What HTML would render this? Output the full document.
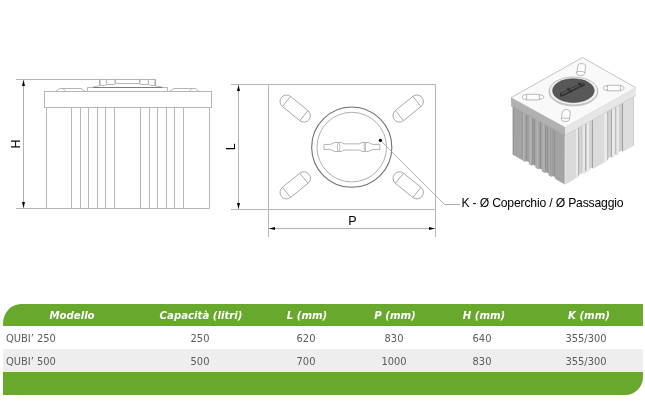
<!DOCTYPE html>
<html lang="it">
<head>
<meta charset="utf-8">
<title>QUBI’ - dimensioni</title>
<style>
html,body{margin:0;padding:0;background:#fff;}
body{width:645px;height:407px;position:relative;overflow:hidden;font-family:"Liberation Sans",sans-serif;}
svg{position:absolute;left:0;top:0;will-change:transform;}
svg text{font-family:"Liberation Sans",sans-serif;}
.tbl{position:absolute;left:3px;top:304px;width:640px;font-family:"DejaVu Sans Condensed","DejaVu Sans","Liberation Sans",sans-serif;font-size:11px;color:#5a5a5a;}
.tbl div{position:relative;width:640px;}
.hd{height:22px;background:#67a82d;border-top-left-radius:18px 20px;color:#fff;font-weight:bold;font-style:italic;line-height:22px;font-size:11.3px;}
.r{height:23px;line-height:23px;}
.r1{background:#fff;}
.r2{background:#eeeeee;}
.ft{height:22.6px;background:#67a82d;border-bottom-right-radius:18px 18px;}
.c,.n{will-change:transform;}
.c{position:absolute;top:1px;width:120px;text-align:center;white-space:nowrap;}
.n{position:absolute;left:3px;top:1px;white-space:nowrap;}
</style>
</head>
<body>
<svg width="645" height="407" viewBox="0 0 645 407">
<g id="front" fill="none">
<line x1="16" y1="79.5" x2="156" y2="79.5" stroke="#b6b6b6" stroke-width="1"/>
<line x1="16" y1="208.5" x2="209.5" y2="208.5" stroke="#b6b6b6" stroke-width="1"/>
<line x1="23.5" y1="80" x2="23.5" y2="208" stroke="#b2b2b2" stroke-width="1"/>
<path d="M23.5,80 L22,86 L25,86 Z" fill="#000"/>
<path d="M23.5,208 L22,202 L25,202 Z" fill="#000"/>
<rect x="44.5" y="91.5" width="167" height="16" stroke="#b6b6b6" stroke-width="1"/>
<line x1="46.5" y1="107.5" x2="46.5" y2="208.5" stroke="#b6b6b6" stroke-width="1"/>
<line x1="209.5" y1="107.5" x2="209.5" y2="208.5" stroke="#b6b6b6" stroke-width="1"/>
<line x1="71.5" y1="108" x2="71.5" y2="208.5" stroke="#b6b6b6" stroke-width="1"/>
<line x1="80.5" y1="108" x2="80.5" y2="208.5" stroke="#b6b6b6" stroke-width="1"/>
<line x1="88.5" y1="108" x2="88.5" y2="208.5" stroke="#b6b6b6" stroke-width="1"/>
<line x1="97.5" y1="108" x2="97.5" y2="208.5" stroke="#b6b6b6" stroke-width="1"/>
<line x1="105.5" y1="108" x2="105.5" y2="208.5" stroke="#b6b6b6" stroke-width="1"/>
<line x1="114.5" y1="108" x2="114.5" y2="208.5" stroke="#b6b6b6" stroke-width="1"/>
<line x1="140.5" y1="108" x2="140.5" y2="208.5" stroke="#b6b6b6" stroke-width="1"/>
<line x1="149.5" y1="108" x2="149.5" y2="208.5" stroke="#b6b6b6" stroke-width="1"/>
<line x1="157.5" y1="108" x2="157.5" y2="208.5" stroke="#b6b6b6" stroke-width="1"/>
<line x1="166.5" y1="108" x2="166.5" y2="208.5" stroke="#b6b6b6" stroke-width="1"/>
<line x1="174.5" y1="108" x2="174.5" y2="208.5" stroke="#b6b6b6" stroke-width="1"/>
<line x1="183.5" y1="108" x2="183.5" y2="208.5" stroke="#b6b6b6" stroke-width="1"/>
<path d="M55.90,91.50 L59.40,88.50 L81.10,88.50 L85.30,91.50" fill="none" stroke="#b4b4b4" stroke-width="1" stroke-linejoin="round"/>
<path d="M62.90,88.50 L66.00,91.50" fill="none" stroke="#b4b4b4" stroke-width="1" stroke-linejoin="round"/>
<path d="M169.70,91.50 L173.90,88.50 L195.60,88.50 L199.10,91.50" fill="none" stroke="#b4b4b4" stroke-width="1" stroke-linejoin="round"/>
<path d="M192.10,88.50 L189.00,91.50" fill="none" stroke="#b4b4b4" stroke-width="1" stroke-linejoin="round"/>
<path d="M87.50,91.50 L87.50,87.50 L167.50,87.50 L167.50,91.50" fill="none" stroke="#b6b6b6" stroke-width="1" stroke-linejoin="round"/>
<line x1="92.8" y1="87.5" x2="162.2" y2="87.5" stroke="#7a7a7a" stroke-width="1"/>
<path d="M92.80,87.00 L99.50,85.80" fill="none" stroke="#a6a6a6" stroke-width="0.7" stroke-linejoin="round"/>
<path d="M162.20,87.00 L155.50,85.80" fill="none" stroke="#a6a6a6" stroke-width="0.7" stroke-linejoin="round"/>
<path d="M99.50,79.50 L99.50,85.50 L104.50,85.50 L106.50,84.50 L114.00,84.50 L115.50,83.50 L139.50,83.50 L141.00,84.50 L148.50,84.50 L150.50,85.50 L155.50,85.50 L155.50,79.50" fill="none" stroke="#b6b6b6" stroke-width="1" stroke-linejoin="round"/>
<line x1="99.8" y1="79.5" x2="99.8" y2="85.5" stroke="#a8a8a8" stroke-width="1.4"/>
<line x1="155.2" y1="79.5" x2="155.2" y2="85.5" stroke="#a8a8a8" stroke-width="1.4"/>
<line x1="106.5" y1="79.5" x2="106.5" y2="84.5" stroke="#b6b6b6" stroke-width="1"/>
<line x1="148.5" y1="79.5" x2="148.5" y2="84.5" stroke="#b6b6b6" stroke-width="1"/>
<line x1="115.2" y1="79.5" x2="115.2" y2="83.5" stroke="#a8a8a8" stroke-width="1.3"/>
<line x1="139.8" y1="79.5" x2="139.8" y2="83.5" stroke="#a8a8a8" stroke-width="1.3"/>
</g>
<text transform="translate(20,144) rotate(-90)" text-anchor="middle" font-size="12.5" fill="#000">H</text>
<g id="top" fill="none">
<line x1="231" y1="84.5" x2="436" y2="84.5" stroke="#b6b6b6" stroke-width="1"/>
<line x1="231" y1="209.5" x2="436" y2="209.5" stroke="#b6b6b6" stroke-width="1"/>
<line x1="268.5" y1="84.5" x2="268.5" y2="237" stroke="#b6b6b6" stroke-width="1"/>
<line x1="435.5" y1="84.5" x2="435.5" y2="237" stroke="#b6b6b6" stroke-width="1"/>
<line x1="238.5" y1="85" x2="238.5" y2="209" stroke="#b2b2b2" stroke-width="1"/>
<path d="M238.5,85 L237,91 L240,91 Z" fill="#000"/>
<path d="M238.5,209 L237,203 L240,203 Z" fill="#000"/>
<line x1="269" y1="228.5" x2="435" y2="228.5" stroke="#b2b2b2" stroke-width="1"/>
<path d="M269,228.5 L275,227 L275,230 Z" fill="#000"/>
<path d="M435,228.5 L429,227 L429,230 Z" fill="#000"/>
<circle cx="351.75" cy="147.15" r="40.1" stroke="#6e6e6e" stroke-width="1.05"/>
<circle cx="351.75" cy="147.1" r="34.8" stroke="#a6a6a6" stroke-width="0.9"/>
<g transform="translate(295.2,108.54999999999998) rotate(39)" stroke="#a6a6a6" stroke-width="0.9"><path d="M-11.2,-6.5 L11.2,-6.5 A6.5,6.5 0 0 1 11.2,6.5 L-11.2,6.5 A6.5,6.5 0 0 1 -11.2,-6.5 Z"/><path d="M-11.2,-6.5 L-11.2,6.5 M11.2,-6.5 L11.2,6.5"/></g>
<g transform="translate(408.2,108.54999999999998) rotate(-39)" stroke="#a6a6a6" stroke-width="0.9"><path d="M-11.2,-6.5 L11.2,-6.5 A6.5,6.5 0 0 1 11.2,6.5 L-11.2,6.5 A6.5,6.5 0 0 1 -11.2,-6.5 Z"/><path d="M-11.2,-6.5 L-11.2,6.5 M11.2,-6.5 L11.2,6.5"/></g>
<g transform="translate(295.2,185.35) rotate(-39)" stroke="#a6a6a6" stroke-width="0.9"><path d="M-11.2,-6.5 L11.2,-6.5 A6.5,6.5 0 0 1 11.2,6.5 L-11.2,6.5 A6.5,6.5 0 0 1 -11.2,-6.5 Z"/><path d="M-11.2,-6.5 L-11.2,6.5 M11.2,-6.5 L11.2,6.5"/></g>
<g transform="translate(408.2,185.35) rotate(39)" stroke="#a6a6a6" stroke-width="0.9"><path d="M-11.2,-6.5 L11.2,-6.5 A6.5,6.5 0 0 1 11.2,6.5 L-11.2,6.5 A6.5,6.5 0 0 1 -11.2,-6.5 Z"/><path d="M-11.2,-6.5 L-11.2,6.5 M11.2,-6.5 L11.2,6.5"/></g>
<path d="M324.00,144.45 L330.60,144.45 L334.60,142.45 L341.30,142.45 L344.00,143.85 L359.80,143.85 L362.00,142.45 L368.50,142.45 L372.80,144.45 L379.80,144.45 L379.80,149.45 L372.80,149.45 L368.50,151.45 L362.00,151.45 L359.80,150.05 L344.00,150.05 L341.30,151.45 L334.60,151.45 L330.60,149.45 L324.00,149.45 Z" fill="none" stroke="#aaaaaa" stroke-width="0.9" stroke-linejoin="round"/>
<path d="M338,142.45 Q336.6,146.95 338,151.45 M339.2,142.45 Q340.6,146.95 339.2,151.45 M364.3,142.45 L364.3,151.45 M365.5,142.45 L365.5,151.45" stroke="#b0b0b0" stroke-width="0.8"/>
<path d="M380.40,140.30 L444.60,204.50 L460.00,204.50" fill="none" stroke="#a6a6a6" stroke-width="0.9" stroke-linejoin="round"/>
<circle cx="380.4" cy="140.3" r="1.6" fill="#000"/>
</g>
<text transform="translate(235.2,146.8) rotate(-90)" text-anchor="middle" font-size="12.5" fill="#000">L</text>
<text x="352.3" y="225.2" text-anchor="middle" font-size="12.5" fill="#000">P</text>
<text x="461.4" y="207.1" font-size="12.2" textLength="162.2" lengthAdjust="spacing" fill="#000">K - Ø Coperchio / Ø Passaggio</text>
<g id="iso">
<path d="M512.90,106.50 L564.90,135.40 L564.90,184.40 L512.90,154.80 Z" fill="#a3a3a3" stroke="none" stroke-width="1" stroke-linejoin="round"/>
<path d="M564.90,135.40 L633.60,96.50 L633.60,145.60 L564.90,184.40 Z" fill="#d6d6d6" stroke="none" stroke-width="1" stroke-linejoin="round"/>
<path d="M522.30,111.85 L525.62,113.74 L525.62,162.04 L522.30,160.15 Z" fill="#aaaaaa" stroke="none" stroke-width="1" stroke-linejoin="round"/>
<path d="M525.57,113.71 L528.89,115.60 L528.89,162.10 L525.57,160.21 Z" fill="#9e9e9e" stroke="none" stroke-width="1" stroke-linejoin="round"/>
<path d="M528.84,115.57 L532.16,117.46 L532.16,165.76 L528.84,163.87 Z" fill="#aaaaaa" stroke="none" stroke-width="1" stroke-linejoin="round"/>
<path d="M532.11,117.43 L535.43,119.32 L535.43,165.82 L532.11,163.93 Z" fill="#9e9e9e" stroke="none" stroke-width="1" stroke-linejoin="round"/>
<path d="M535.38,119.30 L538.70,121.19 L538.70,169.49 L535.38,167.60 Z" fill="#aaaaaa" stroke="none" stroke-width="1" stroke-linejoin="round"/>
<path d="M538.65,121.16 L541.97,123.05 L541.97,169.55 L538.65,167.66 Z" fill="#9e9e9e" stroke="none" stroke-width="1" stroke-linejoin="round"/>
<path d="M541.92,123.02 L545.24,124.91 L545.24,173.21 L541.92,171.32 Z" fill="#aaaaaa" stroke="none" stroke-width="1" stroke-linejoin="round"/>
<path d="M545.19,124.88 L548.51,126.77 L548.51,173.27 L545.19,171.38 Z" fill="#9e9e9e" stroke="none" stroke-width="1" stroke-linejoin="round"/>
<path d="M548.46,126.74 L551.78,128.63 L551.78,176.93 L548.46,175.04 Z" fill="#aaaaaa" stroke="none" stroke-width="1" stroke-linejoin="round"/>
<path d="M551.73,128.60 L555.05,130.49 L555.05,176.99 L551.73,175.10 Z" fill="#9e9e9e" stroke="none" stroke-width="1" stroke-linejoin="round"/>
<path d="M522.00,111.68 L522.60,112.02 L522.60,158.52 L522.00,158.18 Z" fill="#8b8b8b" stroke="none" stroke-width="1" stroke-linejoin="round"/>
<path d="M526.10,114.01 L526.70,114.36 L526.70,160.86 L526.10,160.51 Z" fill="#8b8b8b" stroke="none" stroke-width="1" stroke-linejoin="round"/>
<path d="M532.60,117.71 L533.20,118.06 L533.20,164.56 L532.60,164.21 Z" fill="#8b8b8b" stroke="none" stroke-width="1" stroke-linejoin="round"/>
<path d="M534.10,118.57 L534.70,118.91 L534.70,165.41 L534.10,165.07 Z" fill="#8b8b8b" stroke="none" stroke-width="1" stroke-linejoin="round"/>
<path d="M540.30,122.10 L540.90,122.44 L540.90,168.94 L540.30,168.60 Z" fill="#8b8b8b" stroke="none" stroke-width="1" stroke-linejoin="round"/>
<path d="M545.30,124.94 L545.90,125.28 L545.90,171.78 L545.30,171.44 Z" fill="#8b8b8b" stroke="none" stroke-width="1" stroke-linejoin="round"/>
<path d="M547.10,125.97 L547.70,126.31 L547.70,172.81 L547.10,172.47 Z" fill="#8b8b8b" stroke="none" stroke-width="1" stroke-linejoin="round"/>
<path d="M550.20,127.73 L550.80,128.07 L550.80,174.57 L550.20,174.23 Z" fill="#8b8b8b" stroke="none" stroke-width="1" stroke-linejoin="round"/>
<path d="M554.00,129.90 L554.60,130.24 L554.60,176.74 L554.00,176.40 Z" fill="#8b8b8b" stroke="none" stroke-width="1" stroke-linejoin="round"/>
<path d="M523.00,112.25 L523.80,112.70 L523.80,161.00 L523.00,160.55 Z" fill="#b9b9b9" stroke="none" stroke-width="1" stroke-linejoin="round"/>
<path d="M529.80,116.12 L530.60,116.58 L530.60,164.88 L529.80,164.42 Z" fill="#b9b9b9" stroke="none" stroke-width="1" stroke-linejoin="round"/>
<path d="M537.00,120.22 L537.80,120.67 L537.80,168.97 L537.00,168.52 Z" fill="#b9b9b9" stroke="none" stroke-width="1" stroke-linejoin="round"/>
<path d="M543.40,123.86 L544.20,124.32 L544.20,172.62 L543.40,172.16 Z" fill="#b9b9b9" stroke="none" stroke-width="1" stroke-linejoin="round"/>
<path d="M525.57,161.11 L528.84,162.01 L528.84,164.47 L525.57,162.61 Z" fill="#fff" stroke="none" stroke-width="1" stroke-linejoin="round"/>
<path d="M532.11,164.83 L535.38,165.73 L535.38,168.20 L532.11,166.33 Z" fill="#fff" stroke="none" stroke-width="1" stroke-linejoin="round"/>
<path d="M538.65,168.56 L541.92,169.46 L541.92,171.92 L538.65,170.06 Z" fill="#fff" stroke="none" stroke-width="1" stroke-linejoin="round"/>
<path d="M545.19,172.28 L548.46,173.18 L548.46,175.64 L545.19,173.78 Z" fill="#fff" stroke="none" stroke-width="1" stroke-linejoin="round"/>
<path d="M551.73,176.00 L555.00,176.90 L555.00,179.36 L551.73,177.50 Z" fill="#fff" stroke="none" stroke-width="1" stroke-linejoin="round"/>
<path d="M564.90,135.40 L575.00,129.70 L575.00,178.70 L564.90,184.40 Z" fill="#dadada" stroke="none" stroke-width="1" stroke-linejoin="round"/>
<path d="M564.90,135.40 L566.10,134.72 L566.10,183.72 L564.90,184.40 Z" fill="#e1e1e1" stroke="none" stroke-width="1" stroke-linejoin="round"/>
<path d="M575.00,129.70 L575.50,129.41 L575.50,177.41 L575.00,177.70 Z" fill="#b8b8b8" stroke="none" stroke-width="1" stroke-linejoin="round"/>
<path d="M592.70,119.70 L604.20,113.20 L604.20,162.20 L592.70,168.70 Z" fill="#dbdbdb" stroke="none" stroke-width="1" stroke-linejoin="round"/>
<path d="M622.60,102.81 L633.60,96.60 L633.60,145.60 L622.60,151.81 Z" fill="#dddddd" stroke="none" stroke-width="1" stroke-linejoin="round"/>
<path d="M575.50,129.41 L578.25,127.86 L578.25,176.56 L575.50,178.11 Z" fill="#eaeaea" stroke="none" stroke-width="1" stroke-linejoin="round"/>
<path d="M578.20,127.89 L578.80,127.55 L578.80,175.95 L578.20,176.29 Z" fill="#7e7e7e" stroke="none" stroke-width="1" stroke-linejoin="round"/>
<path d="M578.70,127.61 L582.85,125.26 L582.85,172.66 L578.70,175.01 Z" fill="#d0d0d0" stroke="none" stroke-width="1" stroke-linejoin="round"/>
<path d="M578.70,175.01 L582.80,172.69 L582.80,174.89 L578.70,177.21 Z" fill="#fff" stroke="none" stroke-width="1" stroke-linejoin="round"/>
<path d="M582.80,125.29 L585.15,123.96 L585.15,172.66 L582.80,173.99 Z" fill="#eaeaea" stroke="none" stroke-width="1" stroke-linejoin="round"/>
<path d="M585.10,123.99 L585.70,123.65 L585.70,172.05 L585.10,172.39 Z" fill="#7e7e7e" stroke="none" stroke-width="1" stroke-linejoin="round"/>
<path d="M585.60,123.71 L586.85,123.00 L586.85,170.40 L585.60,171.11 Z" fill="#c4c4c4" stroke="none" stroke-width="1" stroke-linejoin="round"/>
<path d="M585.60,171.11 L586.80,170.43 L586.80,172.63 L585.60,173.31 Z" fill="#fff" stroke="none" stroke-width="1" stroke-linejoin="round"/>
<path d="M586.80,123.03 L589.55,121.48 L589.55,170.18 L586.80,171.73 Z" fill="#eaeaea" stroke="none" stroke-width="1" stroke-linejoin="round"/>
<path d="M589.50,121.51 L592.25,119.95 L592.25,167.35 L589.50,168.91 Z" fill="#d0d0d0" stroke="none" stroke-width="1" stroke-linejoin="round"/>
<path d="M589.50,168.91 L592.20,167.38 L592.20,169.58 L589.50,171.11 Z" fill="#fff" stroke="none" stroke-width="1" stroke-linejoin="round"/>
<path d="M592.20,119.98 L592.80,119.64 L592.80,167.64 L592.20,167.98 Z" fill="#7e7e7e" stroke="none" stroke-width="1" stroke-linejoin="round"/>
<path d="M604.20,113.20 L607.65,111.26 L607.65,159.96 L604.20,161.90 Z" fill="#eaeaea" stroke="none" stroke-width="1" stroke-linejoin="round"/>
<path d="M607.60,111.28 L608.20,110.95 L608.20,159.35 L607.60,159.68 Z" fill="#7e7e7e" stroke="none" stroke-width="1" stroke-linejoin="round"/>
<path d="M608.10,111.00 L611.45,109.11 L611.45,156.51 L608.10,158.40 Z" fill="#d0d0d0" stroke="none" stroke-width="1" stroke-linejoin="round"/>
<path d="M608.10,158.40 L611.40,156.54 L611.40,158.74 L608.10,160.60 Z" fill="#fff" stroke="none" stroke-width="1" stroke-linejoin="round"/>
<path d="M611.40,109.14 L612.00,108.80 L612.00,156.80 L611.40,157.14 Z" fill="#7e7e7e" stroke="none" stroke-width="1" stroke-linejoin="round"/>
<path d="M611.90,108.86 L614.85,107.19 L614.85,155.89 L611.90,157.56 Z" fill="#eaeaea" stroke="none" stroke-width="1" stroke-linejoin="round"/>
<path d="M614.80,107.22 L615.85,106.62 L615.85,154.02 L614.80,154.62 Z" fill="#d0d0d0" stroke="none" stroke-width="1" stroke-linejoin="round"/>
<path d="M614.80,154.62 L615.80,154.05 L615.80,156.25 L614.80,156.82 Z" fill="#fff" stroke="none" stroke-width="1" stroke-linejoin="round"/>
<path d="M615.80,106.65 L616.40,106.31 L616.40,154.31 L615.80,154.65 Z" fill="#7e7e7e" stroke="none" stroke-width="1" stroke-linejoin="round"/>
<path d="M616.30,106.37 L618.95,104.87 L618.95,153.57 L616.30,155.07 Z" fill="#eaeaea" stroke="none" stroke-width="1" stroke-linejoin="round"/>
<path d="M618.90,104.90 L622.05,103.12 L622.05,150.52 L618.90,152.30 Z" fill="#d0d0d0" stroke="none" stroke-width="1" stroke-linejoin="round"/>
<path d="M618.90,152.30 L622.00,150.55 L622.00,152.75 L618.90,154.50 Z" fill="#fff" stroke="none" stroke-width="1" stroke-linejoin="round"/>
<path d="M622.00,103.15 L622.65,102.78 L622.65,150.78 L622.00,151.15 Z" fill="#7e7e7e" stroke="none" stroke-width="1" stroke-linejoin="round"/>
<line x1="513.1" y1="106.5" x2="513.1" y2="154.8" stroke="#808080" stroke-width="0.7"/>
<line x1="633.4" y1="96.5" x2="633.4" y2="145.6" stroke="#c0c0c0" stroke-width="0.6"/>
<path d="M511.00,97.70 L565.10,127.50 L565.10,135.40 L511.20,106.00 Z" fill="#b1b1b1" stroke="none" stroke-width="1" stroke-linejoin="round"/>
<path d="M565.10,127.50 L635.80,87.70 L635.80,95.60 L565.10,135.40 Z" fill="#e6e6e6" stroke="none" stroke-width="1" stroke-linejoin="round"/>
<path d="M511.20,106.00 L565.10,135.40" fill="none" stroke="#9a9a9a" stroke-width="0.6" stroke-linejoin="round"/>
<path d="M565.10,135.40 L635.80,95.60" fill="none" stroke="#c2c2c2" stroke-width="0.6" stroke-linejoin="round"/>
<path d="M511.00,97.70 L582.50,57.50 L635.80,87.70 L565.10,127.50 Z" fill="#f9f9f9" stroke="none" stroke-width="1" stroke-linejoin="round"/>
<path d="M511.00,97.70 L582.50,57.50 L635.80,87.70" fill="none" stroke="#ababab" stroke-width="0.7" stroke-linejoin="round"/>
<path d="M511.00,97.70 L565.10,127.50" fill="none" stroke="#9d9d9d" stroke-width="0.6" stroke-linejoin="round"/>
<path d="M565.10,127.50 L635.80,87.70" fill="none" stroke="#cdcdcd" stroke-width="0.6" stroke-linejoin="round"/>
<ellipse cx="573.5" cy="92.0" rx="24.3" ry="14.0" fill="#e9e9e9" stroke="#a5a5a5" stroke-width="0.6"/>
<ellipse cx="573.5" cy="91.0" rx="24.3" ry="14.0" fill="#efefef" stroke="#9c9c9c" stroke-width="0.6"/>
<ellipse cx="573.4" cy="90.6" rx="20.8" ry="11.9" fill="#585858" stroke="#3a3a3a" stroke-width="0.5"/>
<path d="M560,96.3 L560,93.2 L582.4,82.4 L584.9,83.4 L584.9,85.2 L562.4,96.6 Z" fill="#343434"/>
<path d="M561,93.6 L582.6,83.2 L584,83.8 L562.4,94.4 Z" fill="#5b5b5b"/>
<path d="M567.4,88.3 L571.6,92 M578.4,83 L582.6,86.6" stroke="#2e2e2e" stroke-width="1.8" fill="none"/>
<g fill="#fcfcfc" stroke="#8f8f8f" stroke-width="0.6">
<path d="M526.6,94.3 L539.3,94.3 L539.3,94.8 Q544,95.2 544,97 Q544,98.8 539.3,99.3 L539.3,99.9 L526.6,99.9 Q522.2,99.4 522.2,97.1 Q522.2,94.8 526.6,94.3 Z"/>
<path d="M526.6,94.3 L526.6,99.9 M539.3,94.8 L539.3,99.3" fill="none"/>
<path d="M607.4,85.3 L620.4,85.3 Q624.2,86.6 624.2,88 Q624.2,89.4 620.4,90.8 L607.4,90.8 L607.4,90.4 Q602.9,90 602.9,88 Q602.9,86 607.4,85.7 Z"/>
<path d="M607.4,85.3 L607.4,90.8 M620.4,85.3 L620.4,90.8" fill="none"/>
<path d="M578.2,64.8 Q578.4,63.5 581.8,63.6 Q585.4,63.8 585.6,65.2 L584.7,73.6 Q584.4,75.7 580.4,75.6 Q576.4,75.3 576.5,73.2 Z"/>
<path d="M576.6,72.6 Q577,71 580.8,71.3 Q584.6,71.6 584.8,73" fill="none"/>
<path d="M562.2,113 Q562.6,109.2 566.6,109.3 Q570.4,109.6 570.3,113 L569.4,119.6 Q569,121.6 565.2,121.5 Q561,121.2 561.2,119.2 Z"/>
<path d="M561.4,118 L569.6,118.4" fill="none"/>
</g>
</g>
</svg>
<div class="tbl">
<div class="hd"><span class="c" style="left:9px">Modello</span><span class="c" style="left:138.3px">Capacità (litri)</span><span class="c" style="left:243.8px">L (mm)</span><span class="c" style="left:332.2px">P (mm)</span><span class="c" style="left:420.6px">H (mm)</span><span class="c" style="left:525.6px">K (mm)</span></div>
<div class="r r1"><span class="n">QUBI’ 250</span><span class="c" style="left:137px">250</span><span class="c" style="left:242.60000000000002px">620</span><span class="c" style="left:330.5px">830</span><span class="c" style="left:419px">640</span><span class="c" style="left:523px">355/300</span></div>
<div class="r r2"><span class="n">QUBI’ 500</span><span class="c" style="left:137px">500</span><span class="c" style="left:242.60000000000002px">700</span><span class="c" style="left:330.5px">1000</span><span class="c" style="left:419px">830</span><span class="c" style="left:523px">355/300</span></div>
<div class="ft"></div>
</div>
</body>
</html>
